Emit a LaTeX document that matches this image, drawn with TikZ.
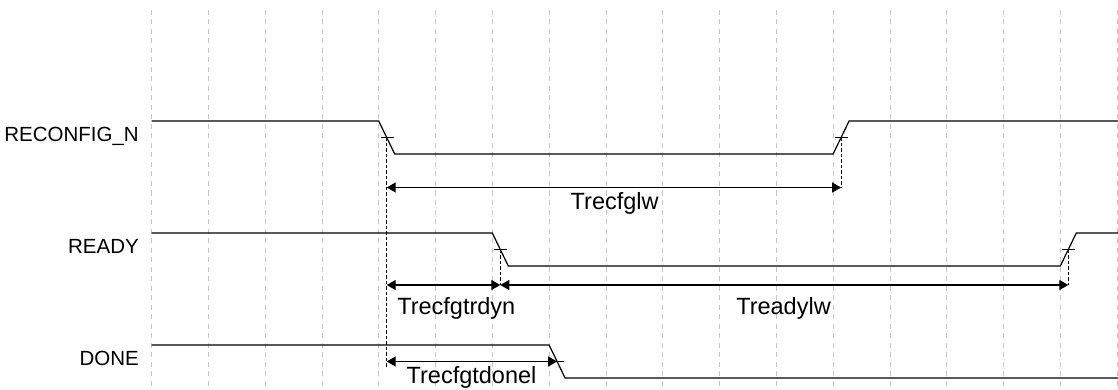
\documentclass[tikz,border=0pt]{standalone}
\usepackage{fontspec}
\setmainfont{Liberation Sans}
\usetikzlibrary{arrows.meta}

\begin{document}
\begin{tikzpicture}[x = 1pt, y = -1pt,
    wave/.style = {line width = 1.2pt},
    tick/.style = {line width = 1pt},
    gridline/.style = {gray!45, line width = 0.8pt, dash pattern = on 5pt off 4.5pt},
    marker/.style = {line width = 1.2pt, dash pattern = on 3.5pt off 2pt},
    span/.style = {line width = 1.2pt, {Triangle[length = 9pt, width = 10pt]}-{Triangle[length = 9pt, width = 10pt]}},
    signame/.style = {draw = none, anchor = base east, inner sep = 0pt, font = \fontsize{20.5}{24}\selectfont},
    spanname/.style = {draw = none, anchor = base, inner sep = 0pt, font = \fontsize{23.5}{28}\selectfont}]
    \useasboundingbox (0,0) rectangle (1118,390) ;
    \foreach \i in {0,...,17}
        \draw[gridline] (151.5+56.8*\i,10) -- (151.5+56.8*\i,386) ;
    % RECONFIG_N
    \coordinate (rc0) at (151.5,121) ;
    \coordinate (rc1) at (378.7,121) ;
    \coordinate (rc2) at (394.7,154) ;
    \coordinate (rc3) at (833.1,154) ;
    \coordinate (rc4) at (849.1,121) ;
    \coordinate (rc5) at (1118,121) ;
    \coordinate (rcf) at (386.7,137.5) ;
    \coordinate (rcr) at (841.1,137.5) ;
    % READY
    \coordinate (rd0) at (151.5,233) ;
    \coordinate (rd1) at (492.3,233) ;
    \coordinate (rd2) at (508.3,266) ;
    \coordinate (rd3) at (1060.3,266) ;
    \coordinate (rd4) at (1076.3,233) ;
    \coordinate (rd5) at (1118,233) ;
    \coordinate (rdf) at (500.3,249.5) ;
    \coordinate (rdr) at (1068.3,249.5) ;
    % DONE
    \coordinate (dn0) at (151.5,345) ;
    \coordinate (dn1) at (549.1,345) ;
    \coordinate (dn2) at (565.1,378) ;
    \coordinate (dn3) at (1118,378) ;
    \coordinate (dnf) at (557.1,361.5) ;
    \draw[wave] (rc0) -- (rc1) -- (rc2) -- (rc3) -- (rc4) -- (rc5) ;
    \draw[wave] (rd0) -- (rd1) -- (rd2) -- (rd3) -- (rd4) -- (rd5) ;
    \draw[wave] (dn0) -- (dn1) -- (dn2) -- (dn3) ;
    \foreach \m in {rcf, rcr, rdf, rdr, dnf}
        \draw[tick] ([xshift = -6pt]\m) -- ([xshift = 7pt]\m) ;
    % measurement ends
    \coordinate (glwL) at (386.7,187.5) ;
    \coordinate (glwR) at (841.1,187.5) ;
    \coordinate (trdL) at (386.7,285) ;
    \coordinate (trdR) at (500.3,285) ;
    \coordinate (rlwR) at (1068.3,285) ;
    \coordinate (dnlL) at (386.7,361.5) ;
    \coordinate (dnlB) at (386.7,367) ;
    \draw[marker] (rcf) -- (dnlB) ;
    \draw[marker] (rcr) -- (glwR) ;
    \draw[marker] (rdf) -- (trdR) ;
    \draw[marker] (rdr) -- (rlwR) ;
    \draw[span] (glwL) -- (glwR) ;
    \draw[span] (trdL) -- (trdR) ;
    \draw[span] (trdR) -- (rlwR) ;
    \draw[span] (dnlL) -- (dnf) ;
    \node[signame] at (139,141.5) (lblrc) {RECONFIG\_N} ;
    \node[signame] at (139,253.3) (lblrd) {READY} ;
    \node[signame] at (139,365.5) (lbldn) {DONE} ;
    \node[spanname] at (614.7,209.3) (glw) {Trecfglw} ;
    \node[spanname] at (456.3,314) (trd) {Trecfgtrdyn} ;
    \node[spanname] at (783.5,314) (rlw) {Treadylw} ;
    \node[spanname] at (471.5,383) (dnl) {Trecfgtdonel} ;
\end{tikzpicture}
\end{document}
